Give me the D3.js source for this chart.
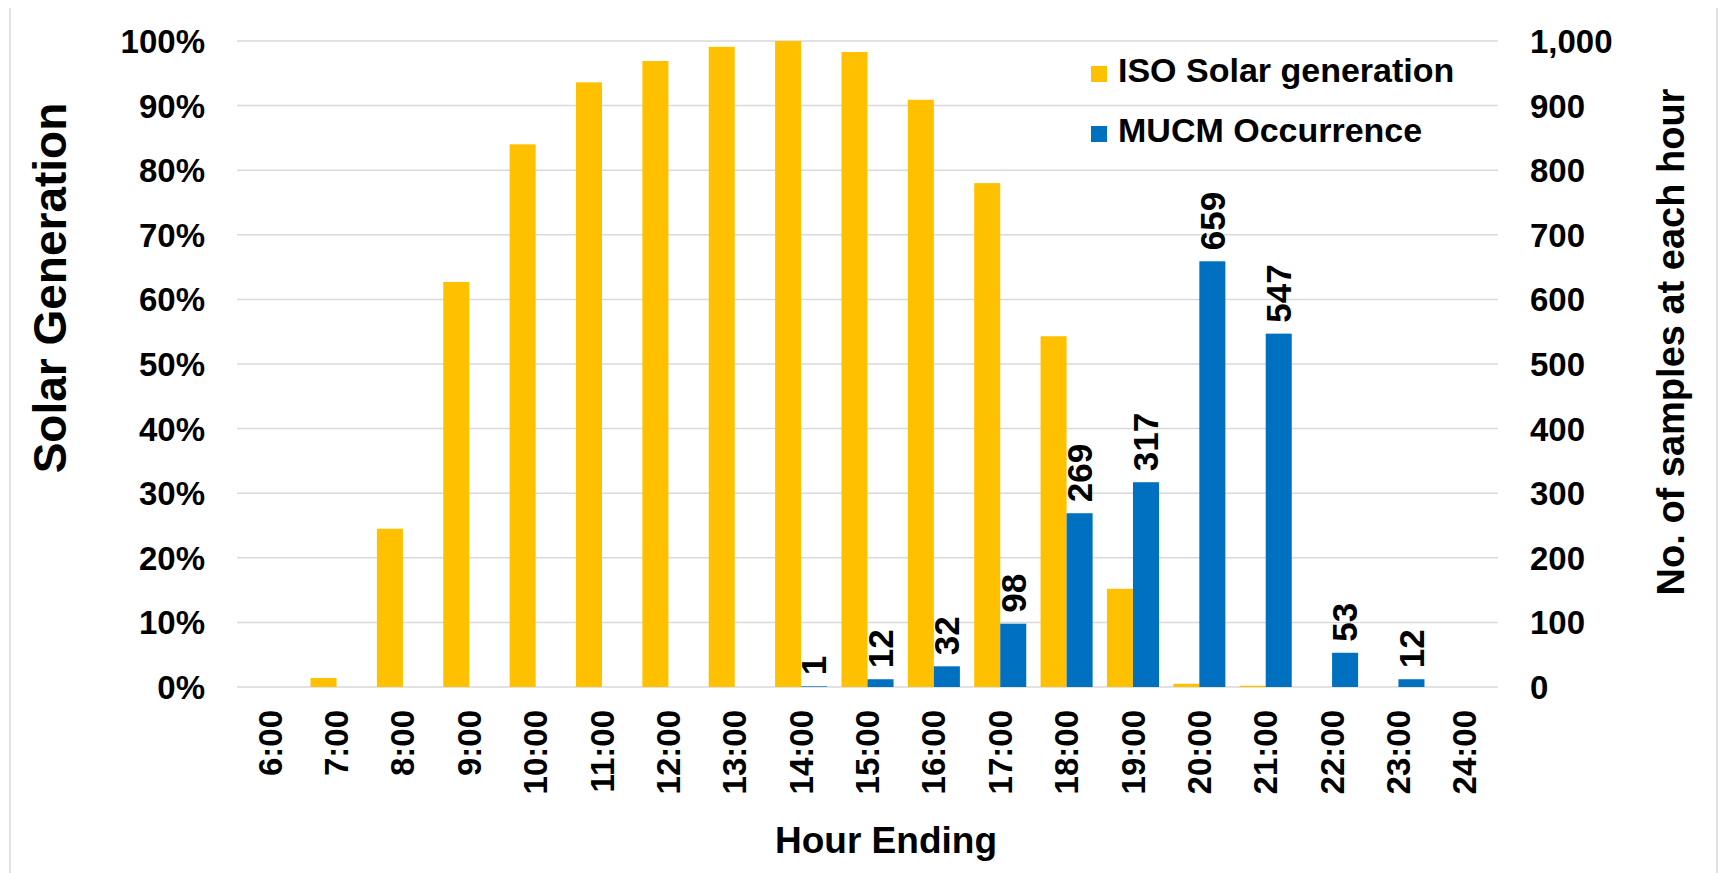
<!DOCTYPE html>
<html>
<head>
<meta charset="utf-8">
<script src="https://cdn.jsdelivr.net/npm/d3@7"></script>
<style>
  html, body { margin: 0; padding: 0; background: #fff; }
  svg { display: block; font-family: "Liberation Sans", Arial, sans-serif; }
  .grid line { stroke: #d9d9d9; stroke-width: 1.5; }
  .tick text { fill: #000; font-weight: bold; }
</style>
</head>
<body>
<svg id="chart" width="1719" height="873"></svg>
<script>
/* ---------------- DATA ---------------- */
const hours = ["6:00", "7:00", "8:00", "9:00", "10:00", "11:00", "12:00", "13:00", "14:00",
  "15:00", "16:00", "17:00", "18:00", "19:00", "20:00", "21:00", "22:00", "23:00", "24:00"];

// share of peak ISO solar generation
const solarShare = [0, 0.014, 0.245, 0.627, 0.84, 0.936, 0.969, 0.991, 1.0,
  0.983, 0.909, 0.78, 0.543, 0.152, 0.005, 0.002, 0, 0, 0];

// MUCM occurrence counts
const mucmCount = [0, 0, 0, 0, 0, 0, 0, 0, 1, 12, 32, 98, 269, 317, 659, 547, 53, 12, 0];

const leftTicks = [0, 0.1, 0.2, 0.3, 0.4, 0.5, 0.6, 0.7, 0.8, 0.9, 1.0];
const rightTicks = [0, 100, 200, 300, 400, 500, 600, 700, 800, 900, 1000];

const seriesNames = ["ISO Solar generation", "MUCM Occurrence"];
const seriesColors = ["#FFC000", "#0070C0"];

/* ---------------- SVG SETUP ---------------- */
const svg = d3.select("#chart");
const plot = { left: 237, right: 1498, top: 41, bottom: 687 };

/* light frame edges of the original figure */
svg.append("line").attr("x1", 10).attr("x2", 10).attr("y1", 8).attr("y2", 873)
  .attr("stroke", "#d9d9d9").attr("stroke-width", 1.5);
svg.append("line").attr("x1", 1717).attr("x2", 1717).attr("y1", 8).attr("y2", 873)
  .attr("stroke", "#d9d9d9").attr("stroke-width", 1.5);

/* ---------------- SCALES ---------------- */
const x = d3.scaleBand().domain(hours).range([plot.left, plot.right]).padding(0);
const inner = d3.scaleBand().domain([0, 1]).range([0, x.bandwidth()])
  .paddingInner(0).paddingOuter(0.275);
const yLeft = d3.scaleLinear().domain([0, 1]).range([plot.bottom, plot.top]);
const yRight = d3.scaleLinear().domain([0, 1000]).range([plot.bottom, plot.top]);

/* ---------------- GRIDLINES ---------------- */
svg.append("g").attr("class", "grid")
  .selectAll("line")
  .data(leftTicks)
  .join("line")
  .attr("x1", plot.left).attr("x2", plot.right)
  .attr("y1", d => yLeft(d)).attr("y2", d => yLeft(d));

/* ---------------- BARS ---------------- */
svg.append("g").selectAll("rect")
  .data(solarShare)
  .join("rect")
  .attr("x", (d, i) => x(hours[i]) + inner(0))
  .attr("width", inner.bandwidth())
  .attr("y", d => yLeft(d))
  .attr("height", d => plot.bottom - yLeft(d))
  .attr("fill", seriesColors[0]);

svg.append("g").selectAll("rect")
  .data(mucmCount)
  .join("rect")
  .attr("x", (d, i) => x(hours[i]) + inner(1))
  .attr("width", inner.bandwidth())
  .attr("y", d => yRight(d))
  .attr("height", d => plot.bottom - yRight(d))
  .attr("fill", seriesColors[1]);

/* data labels on the blue bars */
svg.append("g").selectAll("text")
  .data(mucmCount.map((v, i) => ({ v, h: hours[i] })).filter(d => d.v > 0))
  .join("text")
  .attr("transform", d => `translate(${x(d.h) + inner(1) + inner.bandwidth() / 2},${yRight(d.v) - 11}) rotate(-90)`)
  .attr("dy", "0.35em")
  .attr("text-anchor", "start")
  .attr("font-size", 35)
  .attr("font-weight", "bold")
  .attr("fill", "#000")
  .text(d => d.v);

/* ---------------- AXES ---------------- */
const leftAxis = svg.append("g")
  .attr("transform", `translate(${plot.left},0)`)
  .call(d3.axisLeft(yLeft).tickValues(leftTicks).tickFormat(d3.format(".0%")).tickSize(0).tickPadding(32));
leftAxis.select(".domain").remove();
leftAxis.selectAll("text").attr("font-size", 33).attr("dy", "0.35em");

const rightAxis = svg.append("g")
  .attr("transform", `translate(${plot.right},0)`)
  .call(d3.axisRight(yRight).tickValues(rightTicks).tickFormat(d3.format(",")).tickSize(0).tickPadding(32));
rightAxis.select(".domain").remove();
rightAxis.selectAll("text").attr("font-size", 33).attr("dy", "0.35em");

const bottomAxis = svg.append("g")
  .attr("transform", `translate(0,${plot.bottom})`)
  .call(d3.axisBottom(x).tickSize(0));
bottomAxis.select(".domain").remove();
bottomAxis.selectAll("text")
  .attr("font-size", 33)
  .attr("transform", "rotate(-90)")
  .attr("x", -23)
  .attr("y", 0)
  .attr("dy", "0.35em")
  .attr("text-anchor", "end");

/* ---------------- TITLES ---------------- */
svg.append("text")
  .attr("transform", "translate(50,288) rotate(-90)")
  .attr("dy", "0.35em")
  .attr("text-anchor", "middle")
  .attr("font-size", 46).attr("font-weight", "bold")
  .text("Solar Generation");

svg.append("text")
  .attr("transform", "translate(1671,342) rotate(-90)")
  .attr("dy", "0.35em")
  .attr("text-anchor", "middle")
  .attr("font-size", 38).attr("font-weight", "bold")
  .text("No. of samples at each hour");

svg.append("text")
  .attr("x", 886).attr("y", 853)
  .attr("text-anchor", "middle")
  .attr("font-size", 37).attr("font-weight", "bold")
  .text("Hour Ending");

/* ---------------- LEGEND ---------------- */
const legend = svg.append("g").attr("transform", "translate(1091,0)")
  .selectAll("g")
  .data(seriesNames)
  .join("g")
  .attr("transform", (d, i) => `translate(0,${82 + i * 60})`);

legend.append("rect")
  .attr("x", 0).attr("y", -16)
  .attr("width", 16).attr("height", 16)
  .attr("fill", (d, i) => seriesColors[i]);

legend.append("text")
  .attr("x", 27).attr("y", 0)
  .attr("font-size", 34).attr("font-weight", "bold")
  .text(d => d);
</script>
</body>
</html>
